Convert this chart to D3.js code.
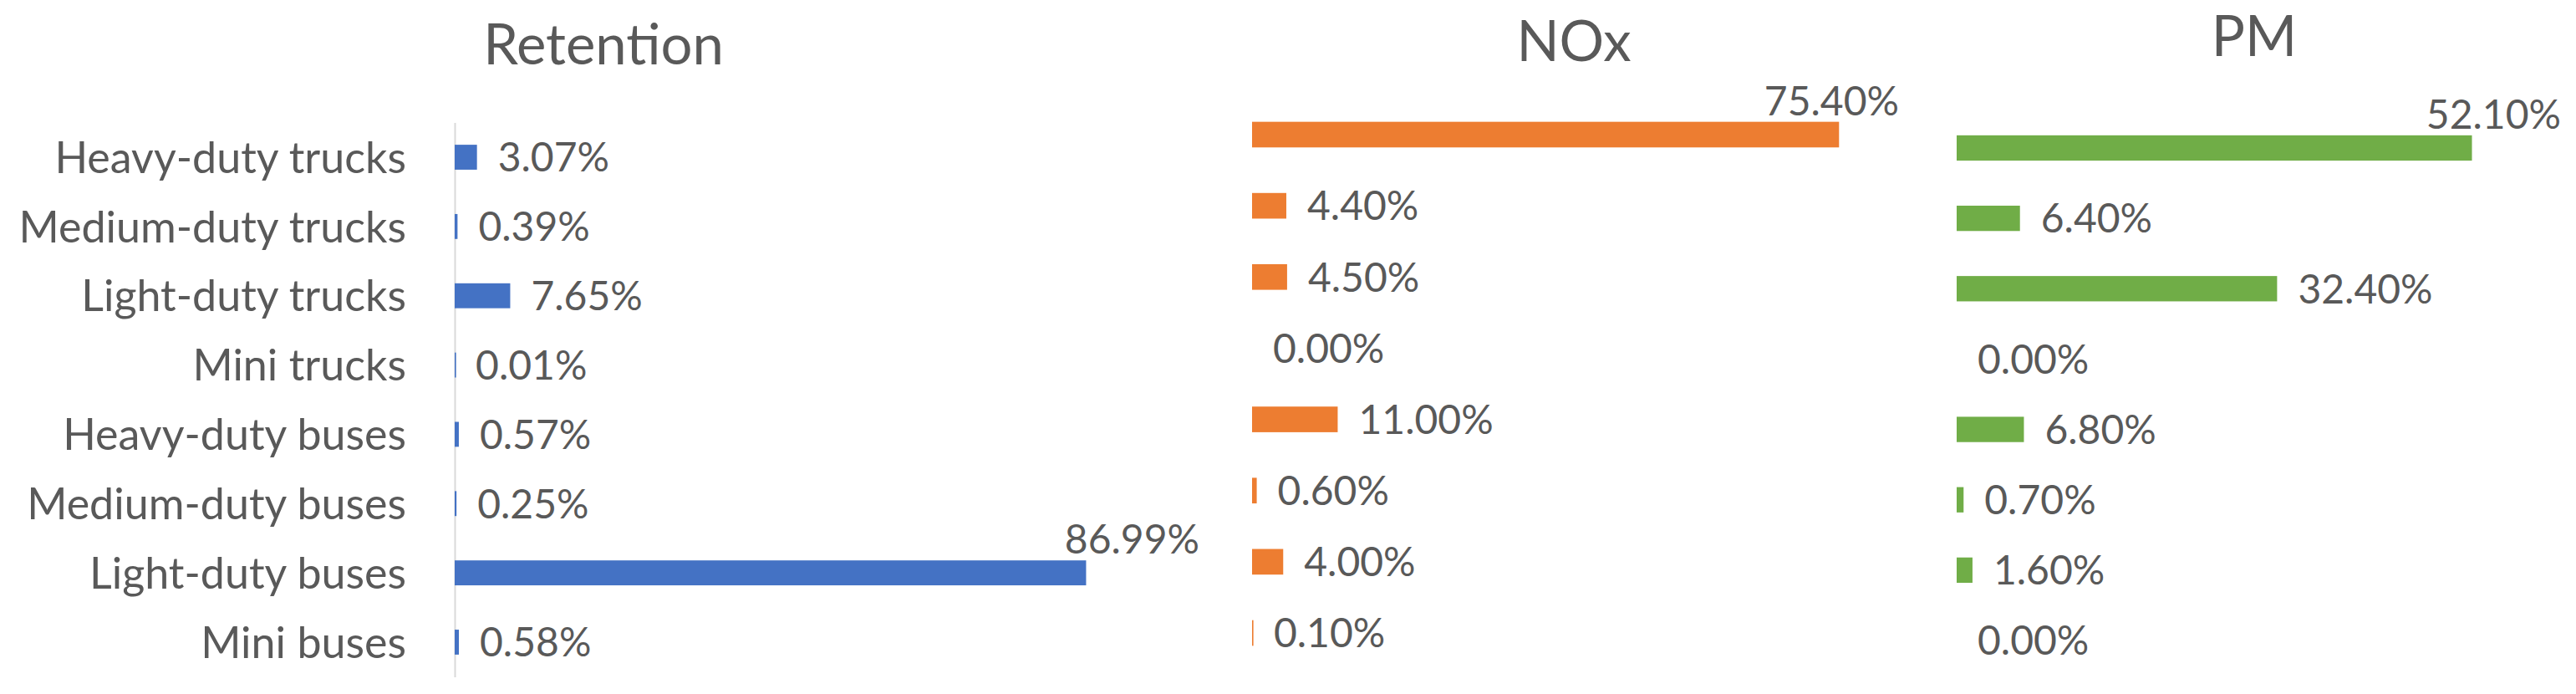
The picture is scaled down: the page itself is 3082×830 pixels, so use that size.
<!DOCTYPE html>
<html>
<head>
<meta charset="utf-8">
<script src="https://cdn.jsdelivr.net/npm/d3@7"></script>
<style>
  html, body { margin: 0; padding: 0; background: #ffffff; }
  svg { display: block; }
  text { font-family: Lato, "Open Sans", sans-serif; fill: #595959; }
</style>
</head>
<body>
<svg id="chart" width="3082" height="830"></svg>
<script>
// ---- data ----
const categories = ["Heavy-duty trucks", "Medium-duty trucks", "Light-duty trucks", "Mini trucks",
                    "Heavy-duty buses", "Medium-duty buses", "Light-duty buses", "Mini buses"];
const seriesNames = ["Retention", "NOx", "PM"];
const retention = [3.07, 0.39, 7.65, 0.01, 0.57, 0.25, 86.99, 0.58];
const nox = [75.40, 4.40, 4.50, 0.00, 11.00, 0.60, 4.00, 0.10];
const pm = [52.10, 6.40, 32.40, 0.00, 6.80, 0.70, 1.60, 0.00];
const axisMax = [102.6, 83.1, 61.1];

// ---- layout / style ----
const seriesValues = [retention, nox, pm];
const colors = ["#4472C4", "#ED7D31", "#70AD47"];
const panels = [
  { x0: 544,  x1: 1435, y0: 146.6, y1: 809.4, titleX: 722,  titleY: 77, axis: true },
  { x0: 1498, x1: 2272, y0: 118.4, y1: 799.6, titleX: 1883, titleY: 73, axis: false },
  { x0: 2341, x1: 3064, y0: 134.9, y1: 808.1, titleX: 2697, titleY: 67, axis: false }
];
const catSize = 52, valueSize = 48, titleSize = 67, gap = 25;

const svg = d3.select("#chart");
const fmt = v => v.toFixed(2) + "%";

panels.forEach((p, k) => {
  const vals = seriesValues[k];
  const x = d3.scaleLinear().domain([0, axisMax[k]]).range([p.x0, p.x1]);
  const y = d3.scaleBand().domain(categories).range([p.y0, p.y1])
              .paddingInner(0.64).paddingOuter(0.32);
  const g = svg.append("g");

  // title
  g.append("text")
    .attr("x", p.titleX).attr("y", p.titleY)
    .attr("text-anchor", "middle")
    .style("font-size", titleSize + "px")
    .text(seriesNames[k]);

  // category axis (only first panel)
  if (p.axis) {
    const ax = g.append("g")
      .attr("transform", `translate(${p.x0},0)`)
      .call(d3.axisLeft(y).tickSize(0).tickSizeOuter(0).tickPadding(58));
    ax.select(".domain").attr("stroke", "#D9D9D9").attr("stroke-width", 2);
    ax.selectAll(".tick text")
      .style("font-size", catSize + "px")
      .style("font-family", "Lato, 'Open Sans', sans-serif")
      .attr("fill", "#595959")
      .attr("dy", "0.36em");
  }

  // bars
  g.selectAll("rect.bar").data(categories).enter().append("rect")
    .attr("class", "bar")
    .attr("x", x(0))
    .attr("y", c => y(c))
    .attr("height", y.bandwidth())
    .attr("width", (c, i) => vals[i] > 0 ? Math.max(x(vals[i]) - x(0), 1.6) : 0)
    .attr("fill", colors[k]);

  // value labels
  categories.forEach((c, i) => {
    const v = vals[i];
    const end = x(v);
    const t = g.append("text")
      .style("font-size", valueSize + "px")
      .text(fmt(v));
    const w = t.node().getComputedTextLength();
    if (end + gap + w > p.x1) {
      // does not fit: placed above the bar end, inside the plot area
      t.attr("x", p.x1).attr("text-anchor", "end").attr("y", y(c) - 8);
    } else {
      t.attr("x", end + gap).attr("y", y(c) + y.bandwidth() / 2).attr("dy", "0.36em");
    }
  });
});
</script>
</body>
</html>
